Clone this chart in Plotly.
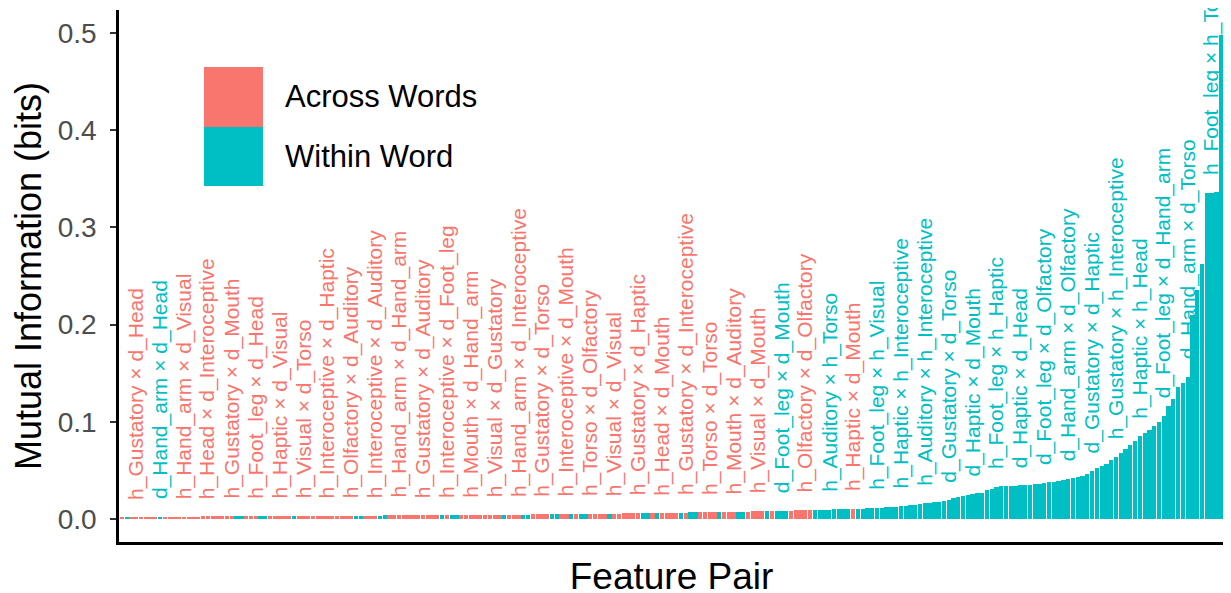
import plotly.graph_objects as go

# ---------------- data ----------------
mi_values = [
    0.0015, 0.0016, 0.0017, 0.0018, 0.0019, 0.0020, 0.0020, 0.0021, 0.0021, 0.0022,
    0.0022, 0.0023, 0.0023, 0.0024, 0.0024, 0.0025, 0.0025, 0.0026, 0.0026, 0.0027,
    0.0027, 0.0028, 0.0028, 0.0028, 0.0029, 0.0029, 0.0029, 0.0030, 0.0030, 0.0030,
    0.0030, 0.0031, 0.0031, 0.0031, 0.0031, 0.0032, 0.0032, 0.0032, 0.0032, 0.0033,
    0.0033, 0.0033, 0.0033, 0.0034, 0.0034, 0.0034, 0.0034, 0.0035, 0.0035, 0.0035,
    0.0035, 0.0036, 0.0036, 0.0036, 0.0036, 0.0037, 0.0037, 0.0037, 0.0037, 0.0038,
    0.0038, 0.0038, 0.0038, 0.0039, 0.0039, 0.0039, 0.0040, 0.0040, 0.0040, 0.0041,
    0.0041, 0.0041, 0.0042, 0.0042, 0.0042, 0.0043, 0.0043, 0.0043, 0.0044, 0.0044,
    0.0044, 0.0045, 0.0045, 0.0046, 0.0046, 0.0046, 0.0047, 0.0047, 0.0048, 0.0048,
    0.0049, 0.0049, 0.0050, 0.0050, 0.0051, 0.0051, 0.0052, 0.0052, 0.0053, 0.0053,
    0.0054, 0.0054, 0.0055, 0.0055, 0.0056, 0.0057, 0.0057, 0.0058, 0.0059, 0.0060,
    0.0060, 0.0061, 0.0062, 0.0063, 0.0063, 0.0064, 0.0065, 0.0066, 0.0066, 0.0067,
    0.0068, 0.0068, 0.0069, 0.0070, 0.0070, 0.0071, 0.0072, 0.0073, 0.0074, 0.0075,
    0.0076, 0.0077, 0.0078, 0.0079, 0.0080, 0.0081, 0.0082, 0.0083, 0.0085, 0.0086,
    0.0087, 0.0088, 0.0089, 0.0091, 0.0092, 0.0094, 0.0095, 0.0096, 0.0097, 0.0098,
    0.0099, 0.0100, 0.0102, 0.0104, 0.0106, 0.0108, 0.0110, 0.0112, 0.0115, 0.0118,
    0.0121, 0.0124, 0.0128, 0.0133, 0.0138, 0.0142, 0.0147, 0.0153, 0.0160, 0.0166,
    0.0172, 0.0180, 0.0188, 0.0196, 0.0215, 0.0228, 0.0240, 0.0250, 0.0258, 0.0265,
    0.0272, 0.0300, 0.0305, 0.0330, 0.0335, 0.0338, 0.0340, 0.0342, 0.0345, 0.0348,
    0.0352, 0.0360, 0.0365, 0.0372, 0.0378, 0.0385, 0.0392, 0.0400, 0.0410, 0.0418,
    0.0428, 0.0438, 0.0460, 0.0490, 0.0520, 0.0545, 0.0570, 0.0610, 0.0640, 0.0680,
    0.0720, 0.0760, 0.0800, 0.0850, 0.0880, 0.0920, 0.0960, 0.1000, 0.1060, 0.1160,
    0.1230, 0.1360, 0.1400, 0.1460, 0.2100, 0.2360, 0.2620, 0.3350, 0.3355, 0.3360,
    0.4980,
]

# group of each bar (A = Across Words, W = Within Word), in rank order
group_codes = list(
    "AWAAAAAAWA"  # 1-10
    "AAAAAAAAAA"  # 11-20
    "AAAAWWAAAW"  # 21-30
    "WAAAAAWAAA"  # 31-40
    "AAAAAAAAAW"  # 41-50
    "WAAAWWAAAA"  # 51-60
    "AAAAAAAWAW"  # 61-70
    "WAAAAAAAAA"  # 71-80
    "WAAAWWAAAA"  # 81-90
    "WWAAWAWWAA"  # 91-100
    "AAWAAAAAAW"  # 101-110
    "WAWAAAAWAW"  # 111-120
    "WAAAAWAAAW"  # 121-130
    "WAAAAWAWWW"  # 131-140
    "AAAAAWWWWW"  # 141-150
    "WWWAWWWWWW"  # 151-160
    "WWWWWWWWWW"  # 161-170
    "WWWWWWWWWW"  # 171-180
    "WWWWWWWWWW"  # 181-190
    "WWWWWWWWWW"  # 191-200
    "WWWWWWWWWW"  # 201-210
    "WWWWWWWWWW"  # 211-220
    "WWWWWWWWWW"  # 221-230
    "W"           # 231
)

# labelled pairs (rank position -> pair name)
label_ranks = list(range(4, 230, 5))
label_texts = [
    "h_Gustatory × d_Head", "d_Hand_arm × d_Head", "h_Hand_arm × d_Visual",
    "h_Head × d_Interoceptive", "h_Gustatory × d_Mouth", "h_Foot_leg × d_Head",
    "h_Haptic × d_Visual", "h_Visual × d_Torso", "h_Interoceptive × d_Haptic",
    "h_Olfactory × d_Auditory", "h_Interoceptive × d_Auditory", "h_Hand_arm × d_Hand_arm",
    "h_Gustatory × d_Auditory", "h_Interoceptive × d_Foot_leg", "h_Mouth × d_Hand_arm",
    "h_Visual × d_Gustatory", "h_Hand_arm × d_Interoceptive", "h_Gustatory × d_Torso",
    "h_Interoceptive × d_Mouth", "h_Torso × d_Olfactory", "h_Visual × d_Visual",
    "h_Gustatory × d_Haptic", "h_Head × d_Mouth", "h_Gustatory × d_Interoceptive",
    "h_Torso × d_Torso", "h_Mouth × d_Auditory", "h_Visual × d_Mouth",
    "d_Foot_leg × d_Mouth", "h_Olfactory × d_Olfactory", "h_Auditory × h_Torso",
    "h_Haptic × d_Mouth", "h_Foot_leg × h_Visual", "h_Haptic × h_Interoceptive",
    "h_Auditory × h_Interoceptive", "d_Gustatory × d_Torso", "d_Haptic × d_Mouth",
    "h_Foot_leg × h_Haptic", "d_Haptic × d_Head", "d_Foot_leg × d_Olfactory",
    "d_Hand_arm × d_Olfactory", "d_Gustatory × d_Haptic", "h_Gustatory × h_Interoceptive",
    "h_Haptic × h_Head", "d_Foot_leg × d_Hand_arm", "d_Hand_arm × d_Torso",
    "h_Foot_leg × h_Torso",
]

group_names = {"A": "Across Words", "W": "Within Word"}
group_colors = {"A": "#F8766D", "W": "#00BFC4"}

y_ticks = [0.0, 0.1, 0.2, 0.3, 0.4, 0.5]

# ---------------- figure ----------------
ranks = list(range(1, len(mi_values) + 1))
fig = go.Figure()
for g in ["A", "W"]:
    xs = [r for r, c in zip(ranks, group_codes) if c == g]
    ys = [v for v, c in zip(mi_values, group_codes) if c == g]
    fig.add_trace(go.Bar(
        x=xs, y=ys, name=group_names[g], width=0.9,
        marker=dict(color=group_colors[g], line=dict(width=0)),
        showlegend=False,
    ))

FONT = "Liberation Sans, Arial, Helvetica, sans-serif"
label_offset = 0.017
for r, t in zip(label_ranks, label_texts):
    g = group_codes[r - 1]
    fig.add_annotation(
        x=r, y=mi_values[r - 1] + label_offset, text=t, textangle=-90,
        xanchor="center", yanchor="bottom", showarrow=False, borderpad=0,
        font=dict(family=FONT, size=21, color=group_colors[g]),
    )

# legend drawn as keys + text (paper coords)
key_x0, key_x1 = 0.0769, 0.1303
key_rows = [("A", 0.8929, 0.7801), ("W", 0.7801, 0.6692)]
for g, ytop, ybot in key_rows:
    fig.add_shape(type="rect", xref="paper", yref="paper",
                  x0=key_x0, x1=key_x1, y0=ybot, y1=ytop,
                  fillcolor=group_colors[g], line=dict(width=0), layer="above")
    fig.add_annotation(xref="paper", yref="paper", x=0.1484, y=(ytop + ybot) / 2,
                       text=group_names[g], showarrow=False, xanchor="left", yanchor="middle",
                       font=dict(family=FONT, size=31, color="black"))

fig.update_layout(
    width=1231, height=593,
    margin=dict(l=111, r=15, t=2, b=59),
    paper_bgcolor="white", plot_bgcolor="white",
    barmode="overlay", bargap=0,
    font=dict(family=FONT, color="black"),
)
fig.update_xaxes(
    range=[0.4, 231.6], showticklabels=False, ticks="", showgrid=False, zeroline=False,
    showline=True, linecolor="black", linewidth=2.5,
    title=dict(text="Feature Pair", font=dict(family=FONT, size=37, color="black"), standoff=20),
)
fig.update_yaxes(
    range=[-0.02366, 0.5237], tickvals=y_ticks, ticktext=[f"{v:.1f}" for v in y_ticks],
    ticks="outside", ticklen=6, tickwidth=2, tickcolor="#333333",
    tickfont=dict(family=FONT, size=28, color="#4D4D4D"),
    showgrid=False, zeroline=False, showline=True, linecolor="black", linewidth=2.5,
    ticklabelstandoff=8,
    title=dict(text="Mutual Information (bits)", font=dict(family=FONT, size=36, color="black"), standoff=9),
)

fig.write_html("out.html")
